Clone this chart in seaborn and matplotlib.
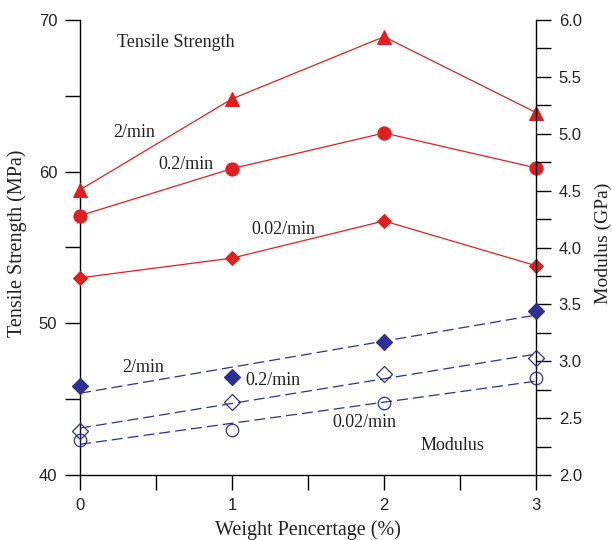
import numpy as np
import pandas as pd
import matplotlib
matplotlib.use("Agg")
import matplotlib.pyplot as plt
import seaborn as sns

# weight percentage of filler
weight = [0, 1, 2, 3]

# tensile strength (MPa) at three loading rates
ts_2 = [58.8, 64.8, 68.9, 63.9]
ts_02 = [57.1, 60.2, 62.55, 60.25]
ts_002 = [53.0, 54.3, 56.75, 53.8]

# modulus (GPa) at three loading rates
mod_2 = [2.78, 2.86, 3.17, 3.44]
mod_02 = [2.39, 2.64, 2.89, 3.03]
mod_002 = [2.31, 2.40, 2.63, 2.85]

red = "#e0201f"
blue = "#2e3192"

sns.set_style("ticks")
plt.rcParams["font.family"] = ["Liberation Sans", "DejaVu Sans"]
plt.rcParams["xtick.direction"] = "out"
plt.rcParams["ytick.direction"] = "out"

fig = plt.figure(figsize=(6.12, 5.4), dpi=100)
ax = fig.add_axes([80 / 612, 1 - 475 / 540, 456 / 612, 455 / 540])
ax2 = ax.twinx()

df_ts = pd.DataFrame({"w": weight, "r2": ts_2, "r02": ts_02, "r002": ts_002})
df_mod = pd.DataFrame({"w": weight, "r2": mod_2, "r02": mod_02, "r002": mod_002})

# tensile strength - red solid lines
for col, mk, ms in [("r2", "^", 10), ("r02", "o", 9.5), ("r002", "D", 7.5)]:
    sns.lineplot(data=df_ts, x="w", y=col, ax=ax, color=red, lw=0.9,
                 marker=mk, markersize=ms, markeredgecolor=red,
                 markerfacecolor=red, clip_on=False, zorder=3)

# modulus - blue points + dashed linear fits
for col, mk, fc in [("r2", "D", blue), ("r02", "D", "none"), ("r002", "o", "none")]:
    sns.regplot(data=df_mod, x="w", y=col, ax=ax2, ci=None, scatter=False,
                line_kws=dict(color=blue, lw=0.9, dashes=(8.8, 4)))
    ax2.plot(df_mod["w"], df_mod[col], ls="none", marker=mk,
             markersize=8 if mk == "D" else 9, markerfacecolor=fc,
             markeredgecolor=blue, markeredgewidth=0.9, clip_on=False, zorder=4)

ax.set_xlim(0, 3)
ax.set_ylim(40, 70)
ax2.set_ylim(2.0, 6.0)

ax.set_xticks([0, 1, 2, 3])
ax.set_xticks([0.5, 1.5, 2.5], minor=True)
ax.set_yticks([40, 50, 60, 70])
ax.set_yticks([45, 55, 65], minor=True)
ax2.set_yticks([2.0, 2.5, 3.0, 3.5, 4.0, 4.5, 5.0, 5.5, 6.0])
ax2.set_yticklabels(["2.0", "2.5", "3.0", "3.5", "4.0", "4.5", "5.0", "5.5", "6.0"])
ax2.set_yticks(np.arange(2.25, 6.0, 0.5), minor=True)

for a in (ax, ax2):
    a.tick_params(which="both", length=10.8, width=1, color="black",
                  labelsize=12, pad=5.5, labelcolor="#222222")
    for s in a.spines.values():
        s.set_linewidth(1)
        s.set_color("black")
    a.spines["top"].set_visible(False)
ax.spines["right"].set_visible(False)
ax2.spines["left"].set_visible(False)
ax2.spines["bottom"].set_visible(False)

serif = ["Liberation Serif", "DejaVu Serif"]
ax.set_xlabel("Weight Pencertage (%)", family=serif, fontsize=14.5, color="#222222")
ax.set_ylabel("Tensile Strength (MPa)", family=serif, fontsize=14.5, color="#222222")
ax2.set_ylabel("Modulus (GPa)", family=serif, fontsize=14, color="#222222")
ax.xaxis.set_label_coords(0.5, -0.1)
ax.yaxis.set_label_coords(-0.116, 0.51)
ax2.yaxis.set_label_coords(1.129, 0.51)
ax2.set_xlabel("")

labels = [
    ("Tensile Strength", 0.243, 68.5, 13),
    ("2/min", 0.217, 62.55, 13),
    ("0.2/min", 0.513, 60.44, 13),
    ("0.02/min", 1.125, 56.16, 13),
    ("2/min", 0.276, 47.12, 13),
    ("0.2/min", 1.086, 46.2, 13),
    ("0.02/min", 1.658, 43.43, 13),
    ("Modulus", 2.237, 41.92, 13),
]
for txt, x, y, fs in labels:
    ax.text(x, y, txt, family=serif, fontsize=fs, ha="left", va="center",
            color="#222222")

fig.savefig("out.png", dpi=100)
